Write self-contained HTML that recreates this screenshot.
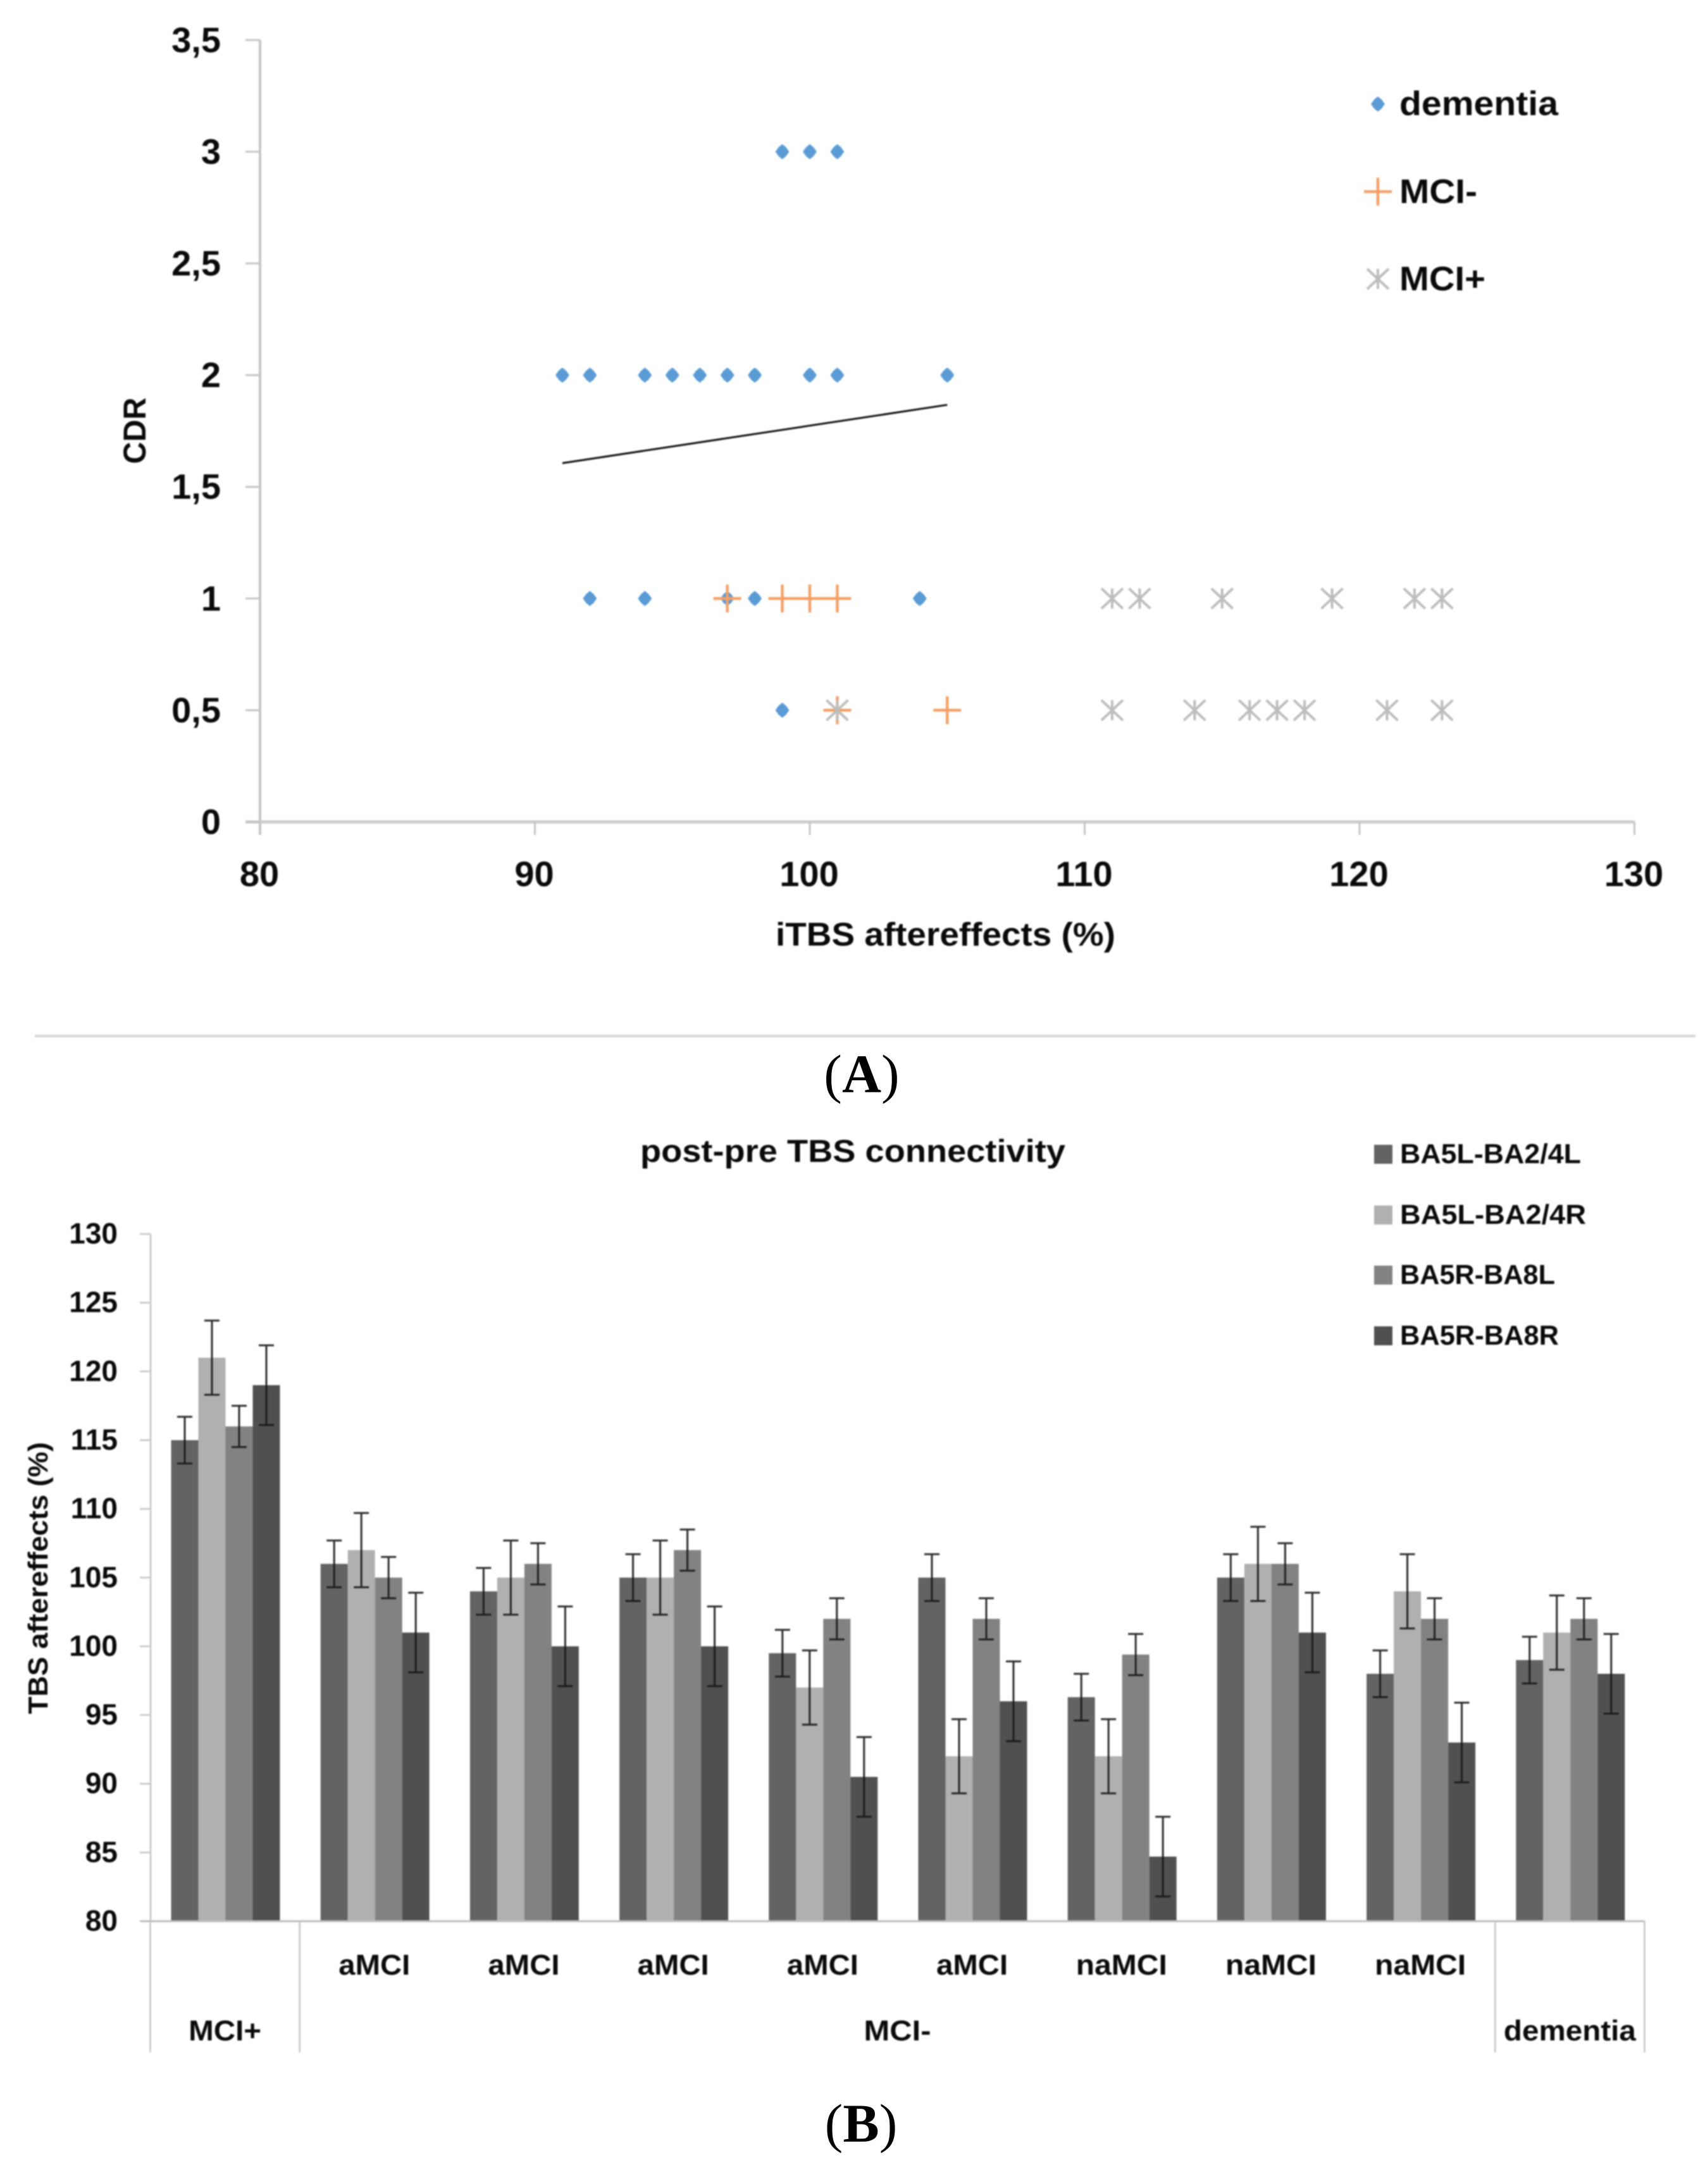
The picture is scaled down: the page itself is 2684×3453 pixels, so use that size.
<!DOCTYPE html>
<html lang="en">
<head>
<meta charset="utf-8">
<title>iTBS aftereffects and post-pre TBS connectivity</title>
<style>
html,body{margin:0;padding:0;background:#fff;}
#page{position:relative;width:2684px;height:3453px;overflow:hidden;background:#fff;}
svg{display:block;}
#fig{filter:blur(1.1px);}
#labels{position:absolute;left:0;top:0;}
text{font-family:"Liberation Sans",sans-serif;font-weight:bold;fill:#0a0a0a;}
.ser{font-family:"Liberation Serif",serif;font-size:86px;fill:#000;}
.par{font-weight:normal;}
</style>
</head>
<body>
<div id="page">
<svg id="fig" xmlns="http://www.w3.org/2000/svg" width="2684" height="3453" viewBox="0 0 2684 3453">
  <g id="chartA">
    <text x="212" y="681" transform="rotate(-90 212 681) translate(0 18)" font-size="50" text-anchor="middle" textLength="105" lengthAdjust="spacingAndGlyphs">CDR</text>
    <text x="1226" y="1495" font-size="52" textLength="537" lengthAdjust="spacingAndGlyphs">iTBS aftereffects (%)</text>
    <text x="2212" y="182" font-size="54" textLength="251" lengthAdjust="spacingAndGlyphs">dementia</text>
    <text x="2212" y="321" font-size="54" textLength="123" lengthAdjust="spacingAndGlyphs">MCI-</text>
    <text x="2212" y="459" font-size="54" textLength="136" lengthAdjust="spacingAndGlyphs">MCI+</text>
  </g>
  <rect x="55" y="1636" width="2625" height="4" fill="#d6d6d6"/>
  <g id="chartB">
    <text x="1012" y="1837" font-size="50" textLength="672" lengthAdjust="spacingAndGlyphs">post-pre TBS connectivity</text>
    <text x="60" y="2495" transform="rotate(-90 60 2495) translate(0 15)" font-size="44" text-anchor="middle" textLength="430" lengthAdjust="spacingAndGlyphs">TBS aftereffects (%)</text>
  </g>
</svg>
<svg id="labels" xmlns="http://www.w3.org/2000/svg" width="2684" height="3453" viewBox="0 0 2684 3453">
  <text class="ser" x="1362" y="1727" text-anchor="middle"><tspan class="par">(</tspan>A<tspan class="par">)</tspan></text>
  <text class="ser" x="1361" y="3386" text-anchor="middle"><tspan class="par">(</tspan>B<tspan class="par">)</tspan></text>
</svg>
</div>
<script>
/* Panel A data */
var scatterXTicks = ['80','90','100','110','120','130'];
var scatterYTicks = ['0','0,5','1','1,5','2','2,5','3','3,5'];
var dementiaX = [99,100,101,91,92,94,95,96,97,98,100,101,105,92,94,97,98,104,99];
var dementiaY = [3,3,3,2,2,2,2,2,2,2,2,2,2,1,1,1,1,1,0.5];
var mciMinusX = [97,99,100,101,101,105];
var mciMinusY = [1,1,1,1,0.5,0.5];
var mciPlusX = [111,112,115,119,122,123,101,111,114,116,117,118,121,123];
var mciPlusY = [1,1,1,1,1,1,0.5,0.5,0.5,0.5,0.5,0.5,0.5,0.5];
var trendX = [91,105];
var trendY = [1.606,1.867];

/* Panel B data */
var barYTicks = ['80','85','90','95','100','105','110','115','120','125','130'];
var seriesNames = ['BA5L-BA2/4L','BA5L-BA2/4R','BA5R-BA8L','BA5R-BA8R'];
var subgroups = ['','aMCI','aMCI','aMCI','aMCI','aMCI','naMCI','naMCI','naMCI',''];
var groups = ['MCI+','MCI-','dementia'];
var groupSpans = [1,8,1];
var ba5lL = [115,106,104,105,99.5,105,96.3,105,98,99];
var ba5lR = [121,107,105,105,97,92,92,106,104,101];
var ba5rL = [116,105,106,107,102,102,99.4,106,102,102];
var ba5rR = [119,101,100,100,90.5,96,84.7,101,93,98];
var seriesErrors = [1.7,2.7,1.5,2.9];

var NS = 'http://www.w3.org/2000/svg';
var gA = document.getElementById('chartA');
var gB = document.getElementById('chartB');

function make(parent, tag, attrs) {
  var el = document.createElementNS(NS, tag);
  for (var k in attrs) { el.setAttribute(k, attrs[k]); }
  parent.appendChild(el);
  return el;
}
function num(s) { return parseFloat(String(s).replace(',', '.')); }

/* Panel A axes */
function xA(v) { return 411 + (v - 80) * 43.45; }
function yA(v) { return 1299.5 - v * 353.2; }

var yLineA = make(gA, 'line', {x1: xA(80), x2: xA(80), y1: yA(3.5), y2: 1320, stroke: '#c4c4c4', 'stroke-width': 4});


var xLineA = make(gA, 'line', {x1: 388, x2: xA(130), y1: yA(0), y2: yA(0), stroke: '#cdcdcd', 'stroke-width': 5});



scatterYTicks.forEach(function (t) {
  var y = yA(num(t));
  var tick = make(gA, 'line', {x1: 388, x2: xA(80), y1: y, y2: y, stroke: '#c4c4c4', 'stroke-width': 3});
  
  
  var lab = make(gA, 'text', {x: 349, y: y + 19, 'font-size': 56, 'text-anchor': 'end'});
  lab.textContent = t;
  
  
});
scatterXTicks.forEach(function (t) {
  var x = xA(num(t));
  var tick = make(gA, 'line', {x1: x, x2: x, y1: yA(0), y2: 1320, stroke: '#c4c4c4', 'stroke-width': 3});
  
  
  var lab = make(gA, 'text', {x: x - 1, y: 1401, 'font-size': 56, 'text-anchor': 'middle'});
  lab.textContent = t;
  
  
});

function diamondAt(parent, cx, cy) {
  return make(parent, 'polygon', {
    points: [[cx, cy - 12], [cx + 6, cy - 7], [cx + 11, cy], [cx + 6, cy + 7], [cx, cy + 12], [cx - 6, cy + 7], [cx - 11, cy], [cx - 6, cy - 7]].join(' '),
    fill: '#5b9bd5'
  });
}
function crossAt(parent, cx, cy) {
  return make(parent, 'path', {
    d: 'M' + (cx - 22) + ' ' + cy + 'H' + (cx + 22) + 'M' + cx + ' ' + (cy - 22) + 'V' + (cy + 22),
    stroke: '#f3a066', 'stroke-width': 4.5, fill: 'none'
  });
}
function starAt(parent, cx, cy) {
  return make(parent, 'path', {
    d: 'M' + (cx - 17) + ' ' + (cy - 16) + 'L' + (cx + 17) + ' ' + (cy + 16) +
       'M' + (cx + 17) + ' ' + (cy - 16) + 'L' + (cx - 17) + ' ' + (cy + 16) +
       'M' + cx + ' ' + (cy - 16) + 'V' + (cy + 16),
    stroke: '#bdbdbd', 'stroke-width': 4, fill: 'none'
  });
}

dementiaX.forEach(function (v, i) {
  var m = diamondAt(gA, xA(v), yA(dementiaY[i]));
  
  
});
mciMinusX.forEach(function (v, i) {
  var m = crossAt(gA, xA(v), yA(mciMinusY[i]));
  
  
});
mciPlusX.forEach(function (v, i) {
  var m = starAt(gA, xA(v), yA(mciPlusY[i]));
  
  
});
var trend = make(gA, 'line', {x1: xA(trendX[0]), y1: yA(trendY[0]), x2: xA(trendX[1]), y2: yA(trendY[1]), stroke: '#101010', 'stroke-width': 3});



var legD = diamondAt(gA, 2178, 164.5);


var legC = crossAt(gA, 2178, 303);


var legS = starAt(gA, 2178, 441);



/* Panel B axes */
var axisLeft = 237.5;
var groupPitch = 236.2;
var barWidth = 43;
var groupPad = 33;
var seriesValues = [ba5lL, ba5lR, ba5rL, ba5rR];
var seriesColors = ['#636363', '#b0b0b0', '#828282', '#505050'];
var legendY = [1825, 1921, 2016, 2112];
var legendW = [286, 294, 245, 251];

function yB(v) { return 3037.5 - (v - 80) * 21.73; }
function xB(groupIndex, seriesIndex) { return axisLeft + groupIndex * groupPitch + groupPad + seriesIndex * barWidth; }

var yLineB = make(gB, 'line', {x1: 238, x2: 238, y1: yB(130), y2: yB(80), stroke: '#c4c4c4', 'stroke-width': 2.5});



barYTicks.forEach(function (t) {
  var y = yB(num(t));
  var tick = make(gB, 'line', {x1: 221, x2: 238, y1: y, y2: y, stroke: '#c4c4c4', 'stroke-width': 2.5});
  
  
  var lab = make(gB, 'text', {x: 186, y: y + 15, 'font-size': 46, 'text-anchor': 'end'});
  lab.textContent = t;
  
  
});

seriesValues.forEach(function (vals, s) {
  vals.forEach(function (v, g) {
    var bar = make(gB, 'rect', {x: xB(g, s), y: yB(v), width: barWidth, height: yB(80) - yB(v), fill: seriesColors[s]});
    
    
  });
});
seriesValues.forEach(function (vals, s) {
  vals.forEach(function (v, g) {
    var cx = xB(g, s) + barWidth / 2;
    var yHi = yB(v + seriesErrors[s]);
    var yLo = yB(v - seriesErrors[s]);
    var err = make(gB, 'path', {
      d: 'M' + cx + ' ' + yHi + 'V' + yLo + 'M' + (cx - 12) + ' ' + yHi + 'H' + (cx + 12) + 'M' + (cx - 12) + ' ' + yLo + 'H' + (cx + 12),
      stroke: '#161616', 'stroke-width': 3, fill: 'none', 'stroke-opacity': 0.9
    });
    
    
  });
});

var xLineB = make(gB, 'line', {x1: 222, x2: axisLeft + subgroups.length * groupPitch, y1: yB(80), y2: yB(80), stroke: '#bcbcbc', 'stroke-width': 3});



function subgroupWidth(name) { return name.length === 4 ? 113 : 144; }
subgroups.forEach(function (name, g) {
  if (!name) { return; }
  var lab = make(gB, 'text', {
    x: axisLeft + (g + 0.5) * groupPitch, y: 3122, 'font-size': 45, 'text-anchor': 'middle',
    textLength: subgroupWidth(name), lengthAdjust: 'spacingAndGlyphs'
  });
  lab.textContent = name;
  
  
});

var startIndex = 0;
var groupWidths = [115, 106, 209];
groups.forEach(function (name, i) {
  var x0 = axisLeft + startIndex * groupPitch;
  var x1 = x0 + groupSpans[i] * groupPitch;
  var sep = make(gB, 'line', {x1: x0, x2: x0, y1: yB(80), y2: 3245, stroke: '#c4c4c4', 'stroke-width': 2.5});
  
  
  var lab = make(gB, 'text', {
    x: (x0 + x1) / 2, y: 3226, 'font-size': 45, 'text-anchor': 'middle',
    textLength: groupWidths[i], lengthAdjust: 'spacingAndGlyphs'
  });
  lab.textContent = name;
  
  
  startIndex += groupSpans[i];
});
var lastSep = make(gB, 'line', {x1: axisLeft + startIndex * groupPitch, x2: axisLeft + startIndex * groupPitch, y1: yB(80), y2: 3245, stroke: '#c4c4c4', 'stroke-width': 2.5});



seriesNames.forEach(function (name, s) {
  var sw = make(gB, 'rect', {x: 2172, y: legendY[s] - 15, width: 29, height: 30, fill: seriesColors[s]});
  
  
  var lab = make(gB, 'text', {x: 2213, y: legendY[s] + 14, 'font-size': 44, textLength: legendW[s], lengthAdjust: 'spacingAndGlyphs'});
  lab.textContent = name;
  
  
});
</script>
</body>
</html>
